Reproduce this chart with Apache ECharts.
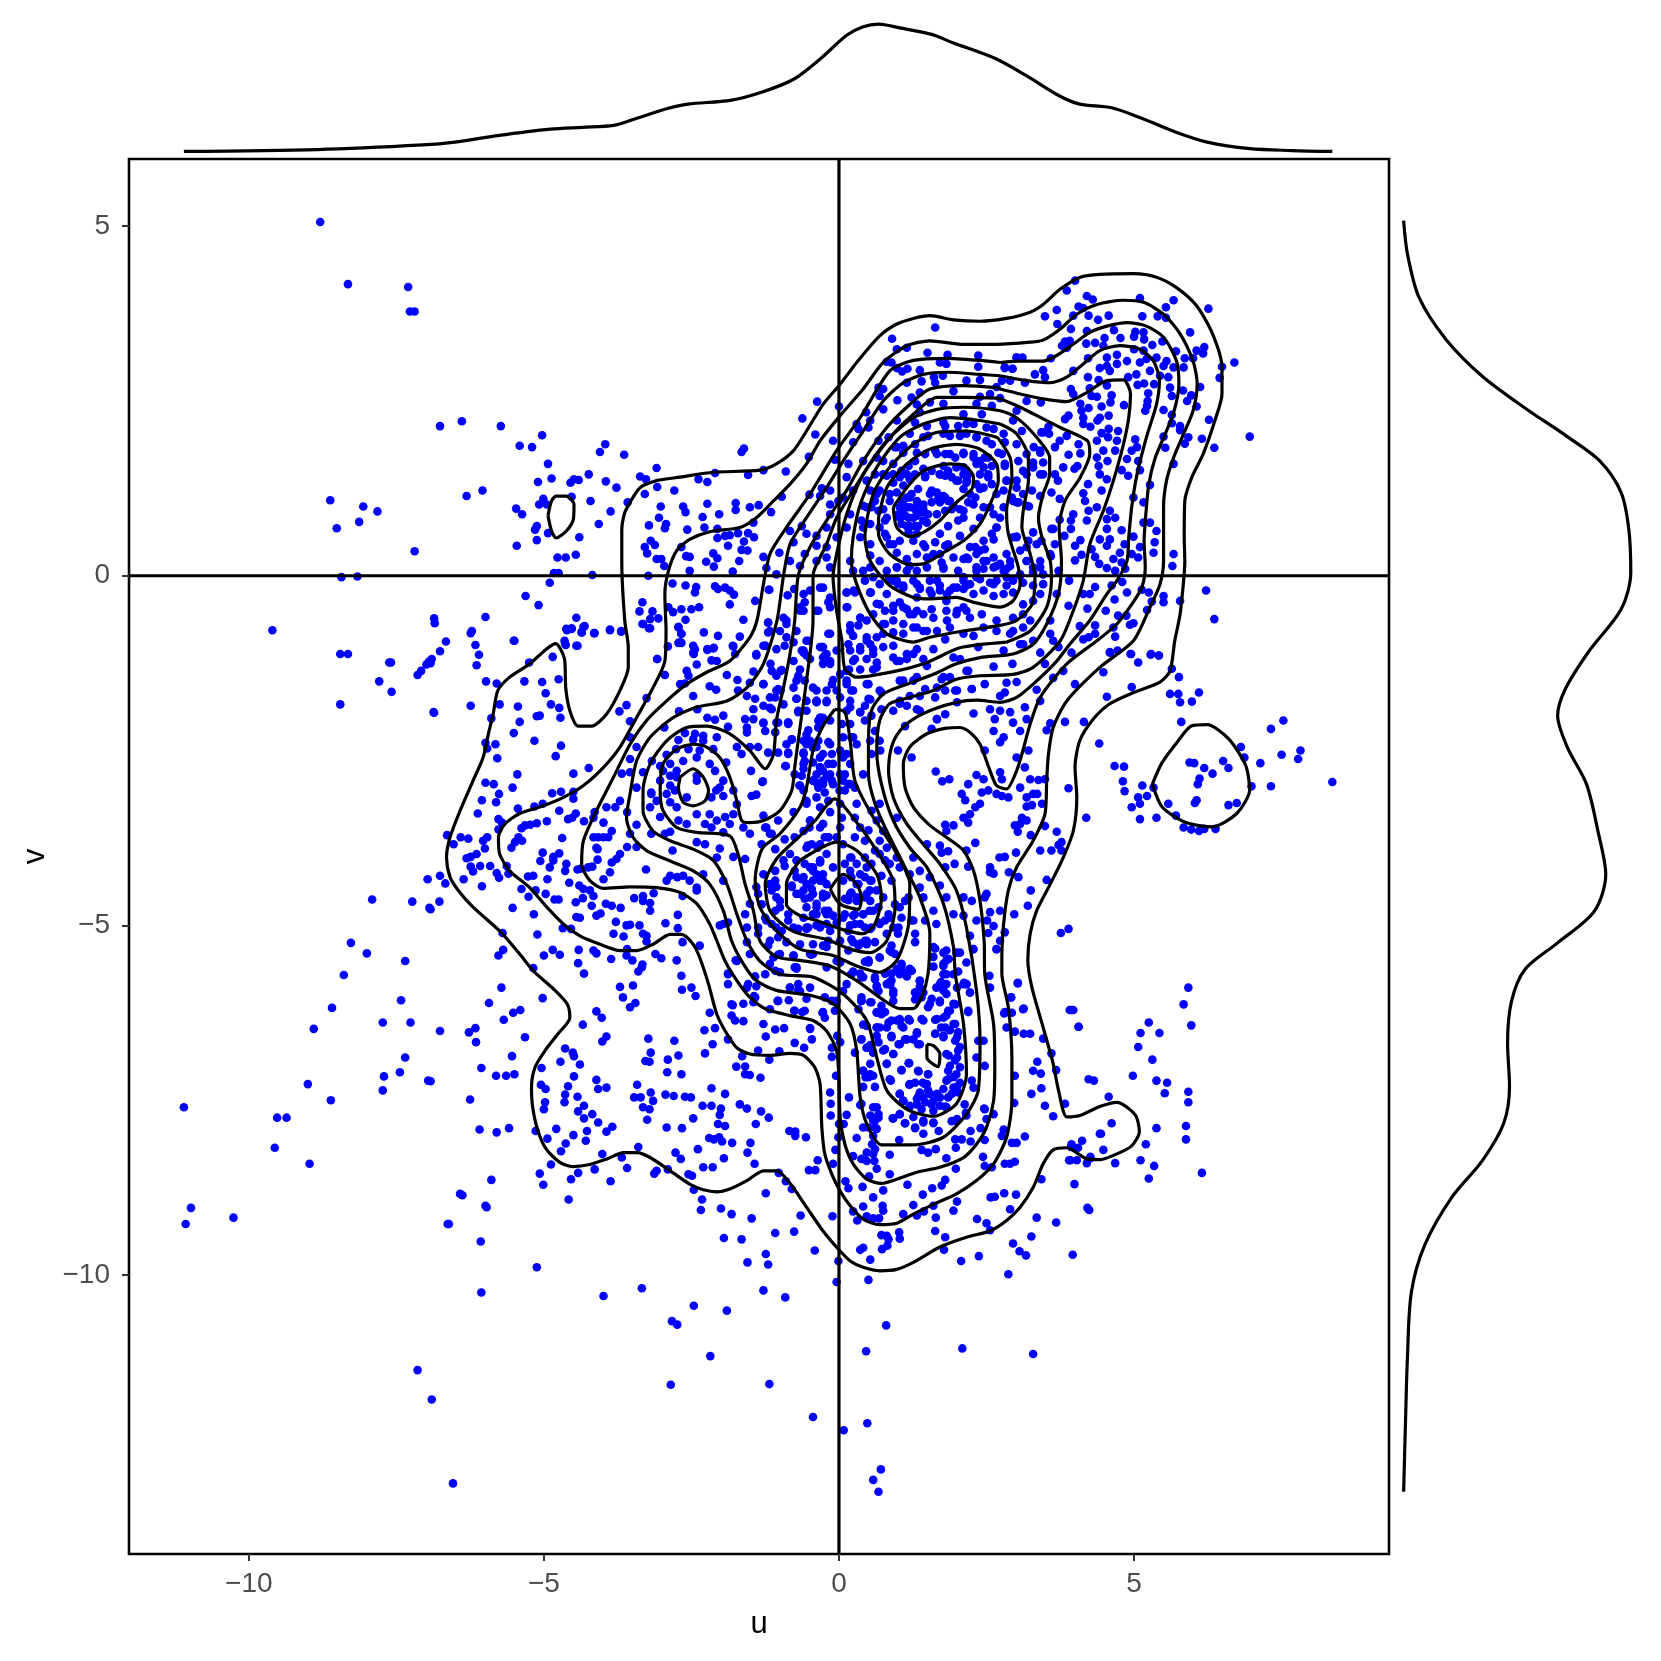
<!DOCTYPE html>
<html><head><meta charset="utf-8">
<script src="https://cdn.jsdelivr.net/npm/echarts@6/dist/echarts.min.js"></script>
<style>html,body{margin:0;padding:0;background:#fff}#c{width:1661px;height:1661px}</style></head>
<body><div id="c"></div>
<script>
const xTicks=[-10,-5,0,5], yTicks=[-10,-5,0,5];
const xMin=-12.03,xMax=9.32,yMin=-13.99,yMax=5.96;
const ptsUpperLeft=[[-8.79,5.06],[-8.32,4.17],[-7.30,4.13],[-7.27,3.78],[-7.19,3.78],[-6.76,2.14],[-6.39,2.21],[-5.73,2.14],[-5.03,2.01],[-5.41,1.86],[-5.20,1.84],[-3.96,1.88],[-4.05,1.77],[-3.64,1.73],[-4.93,1.60],[-4.24,1.45],[-4.87,1.39],[-5.10,1.34],[-4.55,1.33],[-4.49,1.38],[-4.41,1.37],[-3.95,1.35],[-3.77,1.26],[-6.31,1.14],[-6.04,1.22],[-4.53,1.13],[-5.01,1.10],[-5.08,1.02],[-4.95,1.02],[-4.21,1.07],[-3.58,1.05],[-5.47,0.96],[-5.37,0.88],[-3.87,0.92],[-5.12,0.71],[-5.15,0.66],[-4.07,0.74],[-4.93,0.61],[-4.40,0.55],[-5.12,0.51],[-5.46,0.43],[-8.62,1.08],[-8.06,0.99],[-7.82,0.92],[-8.13,0.77],[-8.51,0.68],[-7.19,0.35],[-4.77,0.26],[-4.63,0.26],[-4.46,0.30],[-4.83,0.04],[-4.75,0.04],[-4.18,0.01],[-8.43,-0.02],[-8.16,-0.01],[-4.90,-0.10],[-5.31,-0.29],[-5.09,-0.42],[-5.99,-0.59],[-6.86,-0.61],[-6.85,-0.68],[-4.45,-0.60],[-4.31,-0.72],[-4.61,-0.78],[-4.53,-0.76],[-4.36,-0.81],[-4.14,-0.82],[-3.88,-0.78],[-3.69,-0.80],[-9.60,-0.78],[-6.22,-0.79],[-6.24,-0.82],[-6.66,-0.94],[-6.16,-0.99],[-5.50,-0.93],[-4.65,-0.93],[-4.63,-0.99],[-4.43,-1.00],[-6.76,-1.08],[-8.32,-1.12],[-6.10,-1.13],[-4.85,-1.16],[-7.59,-1.24],[-6.95,-1.23],[-5.25,-1.24]];
const ptsMidLeft=[[-5.51,-0.93],[-6.14,-1.28],[-6.92,-1.25],[-5.98,-1.51],[-5.80,-1.54],[-5.33,-1.51],[-5.03,-1.52],[-4.75,-1.48],[-4.97,-1.68],[-6.24,-1.86],[-6.86,-1.96],[-5.75,-1.84],[-5.44,-1.87],[-4.88,-1.84],[-4.74,-1.89],[-5.89,-2.04],[-5.12,-2.01],[-5.07,-2.0],[-4.72,-2.03],[-5.41,-2.09],[-5.51,-2.25],[-5.16,-2.36],[-5.82,-2.41],[-5.99,-2.39],[-5.96,-2.47],[-4.71,-2.43],[-4.80,-2.58],[-5.79,-2.61],[-5.45,-2.84],[-4.50,-2.83],[-4.24,-2.75],[-5.99,-2.96],[-5.85,-2.98],[-5.53,-3.03],[-5.76,-3.12],[-4.86,-3.11],[-4.71,-3.09],[-4.50,-3.09],[-4.50,-3.19],[-6.05,-3.21],[-5.81,-3.24],[-5.02,-3.26],[-5.16,-3.30],[-5.44,-3.33],[-4.74,-3.36],[-6.12,-3.40],[-4.46,-3.40],[-4.52,-3.46],[-5.77,-3.48],[-5.71,-3.53],[-5.77,-3.63],[-5.32,-3.57],[-5.38,-3.61],[-5.23,-3.56],[-5.12,-3.54],[-4.95,-3.51],[-4.59,-3.48],[-4.32,-3.51],[-6.64,-3.71],[-6.41,-3.74],[-6.28,-3.76],[-5.96,-3.74],[-6.03,-3.79],[-5.43,-3.74],[-5.49,-3.81],[-5.37,-3.79],[-5.55,-3.89],[-4.69,-3.75],[-6.53,-3.84],[-6.0,-3.90],[-6.14,-3.98],[-6.24,-4.02],[-6.31,-4.04],[-5.02,-3.96],[-4.74,-3.97],[-4.84,-4.02],[-4.84,-4.07],[-5.06,-4.08],[-6.08,-4.15],[-6.24,-4.16],[-6.20,-4.23],[-5.91,-4.15],[-5.63,-4.15],[-5.80,-4.25],[-5.60,-4.26],[-5.76,-4.32],[-4.62,-4.12],[-4.90,-4.17],[-4.64,-4.22],[-6.76,-4.29],[-6.67,-4.40],[-6.36,-4.34],[-6.05,-4.44],[-5.27,-4.30],[-5.18,-4.29],[-4.94,-4.34],[-4.57,-4.39],[-5.38,-4.48],[-5.14,-4.50],[-4.97,-4.55],[-5.26,-4.59],[-4.82,-4.63],[-4.75,-4.63],[-6.77,-4.66],[-6.92,-4.77],[-5.53,-4.75],[-5.17,-4.84],[-4.45,-4.88],[-4.39,-4.89],[-4.46,-4.67],[-4.68,-5.04],[-5.11,-5.13],[-5.70,-5.11],[-4.54,-5.05]];
const ptsMidBand=[[-4.11,-3.89],[-4.08,-3.74],[-3.99,-3.74],[-4.16,-3.74],[-3.91,-3.74],[-3.85,-3.65],[-4.14,-3.38],[-3.99,-3.53],[-4.16,-3.46],[-3.94,-3.31],[-3.71,-3.22],[-3.79,-3.31],[-3.59,-3.38],[-3.54,-2.31],[-3.43,-2.45],[-3.54,-2.62],[-3.68,-2.83],[-3.54,-2.81],[-3.32,-2.81],[-3.43,-3.03],[-3.18,-3.12],[-3.54,-3.69],[-3.43,-3.56],[-3.18,-3.69],[-3.59,-3.88],[-3.43,-3.88],[-3.71,-3.98],[-3.77,-4.05],[-3.85,-4.10],[-4.09,-3.91],[-4.09,-4.06],[-4.25,-4.17],[-4.18,-4.16],[-4.43,-4.20],[-4.38,-4.19],[-3.88,-4.24],[-3.99,-4.34],[-3.27,-4.20],[-4.40,-4.43],[-4.33,-4.48],[-4.22,-4.50],[-4.16,-4.58],[-4.34,-4.61],[-4.19,-4.72],[-3.95,-4.69],[-3.85,-4.72],[-3.70,-4.75],[-3.47,-4.61],[-3.32,-4.58],[-3.14,-4.54],[-3.32,-4.65],[-3.20,-4.68],[-3.20,-4.79],[-4.11,-4.86],[-4.04,-4.83],[-3.78,-4.95],[-3.60,-5.0],[-3.54,-4.99],[-3.38,-5.0],[-3.82,-5.12],[-3.65,-5.16],[-3.32,-5.12],[-3.26,-5.15],[-3.26,-5.23],[-2.94,-4.97],[-2.73,-4.85],[-2.73,-5.04],[-2.65,-5.24],[-2.36,-5.29],[-2.92,-4.36],[-2.86,-4.29],[-2.74,-4.31],[-2.64,-4.29],[-2.53,-4.36],[-2.41,-4.46],[-2.41,-4.5],[-2.30,-4.27],[-2.65,-4.58]];
const ptsLowerLeft=[[-5.69,-5.35],[-5.77,-5.43],[-5.0,-5.43],[-4.85,-5.35],[-4.73,-5.42],[-4.41,-5.35],[-4.16,-5.36],[-4.11,-5.40],[-3.86,-5.48],[-3.59,-5.34],[-3.60,-5.43],[-3.50,-5.50],[-3.11,-5.41],[-3.01,-5.47],[-2.75,-5.50],[-4.42,-5.54],[-4.32,-5.69],[-5.18,-5.61],[-3.33,-5.56],[-3.34,-5.60],[-3.40,-5.66],[-2.67,-5.72],[-5.72,-5.89],[-3.71,-5.88],[-3.49,-5.86],[-2.66,-5.92],[-2.50,-5.89],[-2.43,-6.01],[-5.02,-6.04],[-5.93,-6.11],[-3.66,-6.03],[-3.45,-6.11],[-3.54,-6.17],[-5.40,-6.21],[-5.52,-6.25],[-4.11,-6.23],[-4.02,-6.32],[-2.19,-6.25],[-5.68,-6.35],[-4.34,-6.42],[-6.16,-6.47],[-6.27,-6.53],[-6.76,-6.51],[-6.15,-6.67],[-5.32,-6.60],[-3.94,-6.59],[-4.01,-6.66],[-3.23,-6.62],[-2.79,-6.65],[-2.28,-6.50],[-2.10,-6.47],[-2.14,-6.70],[-4.64,-6.76],[-4.51,-6.82],[-4.49,-6.87],[-3.19,-6.82],[-2.72,-6.86],[-2.27,-6.83],[-5.54,-6.87],[-4.72,-6.95],[-4.39,-6.99],[-3.28,-6.94],[-3.21,-6.95],[-2.90,-6.92],[-6.06,-7.04],[-5.04,-7.04],[-2.91,-7.10],[-2.67,-7.13],[-5.81,-7.15],[-5.64,-7.15],[-5.50,-7.13],[-4.49,-7.16],[-4.11,-7.21],[-6.92,-7.23],[-5.05,-7.28],[-4.97,-7.34],[-4.59,-7.30],[-4.08,-7.34],[-3.94,-7.32],[-3.42,-7.28],[-2.16,-7.33],[-1.93,-7.41],[-3.19,-7.39],[-4.64,-7.42],[-4.43,-7.45],[-6.25,-7.49],[-3.47,-7.46],[-3.36,-7.46],[-2.94,-7.42],[-2.80,-7.44],[-2.61,-7.45],[-2.51,-7.46],[-3.15,-7.51],[-4.98,-7.53],[-4.65,-7.53],[-5.0,-7.63],[-4.32,-7.58],[-3.32,-7.60],[-3.21,-7.63],[-2.31,-7.58],[-2.16,-7.58],[-2.0,-7.62],[-2.02,-7.71],[-1.68,-7.56],[-1.56,-7.62],[-4.42,-7.66],[-4.18,-7.70],[-4.32,-7.76],[-4.08,-7.82],[-3.25,-7.78],[-2.47,-7.76],[-1.32,-7.66],[-1.19,-7.75],[-1.41,-7.84],[-2.05,-7.84],[-1.93,-7.87],[-6.09,-7.92],[-5.59,-7.90],[-5.80,-7.96],[-5.14,-7.94],[-4.79,-7.91],[-4.27,-7.94],[-3.94,-7.95],[-3.84,-7.88],[-2.92,-7.89],[-2.66,-7.90],[-0.84,-7.94],[-0.74,-7.95],[-0.74,-8.01],[-0.56,-8.03],[-4.94,-8.05],[-4.50,-8.0],[-4.63,-8.12],[-4.29,-8.08],[-2.20,-8.04],[-2.12,-8.06],[-2.03,-8.03],[-1.98,-8.09],[-1.81,-8.11],[-1.50,-8.11],[-2.39,-8.20],[-4.71,-8.23],[-3.40,-8.17],[-4.01,-8.27],[-2.77,-8.25],[-1.55,-8.25],[-3.68,-8.32],[-2.68,-8.34],[-1.95,-8.33],[-4.88,-8.42],[-1.43,-8.41],[-2.30,-8.46],[-2.14,-8.46],[-0.36,-8.36],[-0.51,-8.50],[-0.40,-8.50],[-5.07,-8.55],[-4.42,-8.54],[-4.14,-8.49],[-3.59,-8.47],[-3.09,-8.51],[-3.13,-8.55],[-2.90,-8.49],[-2.55,-8.56],[-2.49,-8.58],[-1.02,-8.54],[-5.89,-8.64],[-5.01,-8.71],[-4.54,-8.63],[-3.87,-8.66],[-6.38,-8.86],[-0.90,-8.66],[-0.80,-8.77],[-2.46,-8.78],[-1.24,-8.83],[-4.58,-8.92],[-5.97,-9.03],[-2.32,-8.92],[-2.34,-9.07],[-2.0,-9.05],[-1.82,-9.13],[-1.48,-9.19],[-0.65,-9.15],[-6.61,-9.27],[-6.07,-9.52],[-1.08,-9.40],[-0.76,-9.38],[-1.95,-9.47],[-1.65,-9.49],[-0.41,-9.65],[-1.24,-9.70],[-1.55,-9.82],[-1.20,-9.85],[-5.12,-9.89],[-3.34,-10.19],[-6.06,-10.25],[-3.99,-10.30],[-1.28,-10.22],[-0.91,-10.32],[-2.46,-10.44],[-1.90,-10.51],[-2.83,-10.66],[-2.74,-10.71]];
const ptsFarLeft=[[-8.45,-1.12],[-7.79,-1.51],[-7.62,-1.24],[-7.58,-1.66],[-8.45,-1.84],[-7.08,-1.36],[-6.99,-1.27],[-6.9,-1.19],[-7.14,-1.42],[-6.87,-1.95],[-6.97,-4.34],[-7.23,-4.66],[-6.94,-4.75],[-7.91,-4.63],[-8.27,-5.25],[-8.0,-5.40],[-8.39,-5.71],[-8.59,-6.18],[-8.90,-6.48],[-7.35,-5.51],[-7.42,-6.07],[-7.26,-6.39],[-7.73,-6.39],[-7.35,-6.89],[-7.71,-7.16],[-7.44,-7.10],[-7.73,-7.36],[-6.96,-7.22],[-8.61,-7.50],[-9.0,-7.27],[-8.97,-8.41],[-9.56,-8.18],[-9.52,-7.75],[-9.36,-7.75],[-11.1,-7.60],[-11.07,-9.27],[-10.98,-9.04],[-10.26,-9.18],[-6.63,-9.27],[-6.42,-8.84],[-5.99,-9.01],[-7.14,-11.36],[-6.9,-11.78],[-6.54,-12.98],[-2.85,-11.57],[-2.18,-11.16],[-1.18,-11.56],[-0.44,-12.03],[0.08,-12.22],[0.48,-12.12],[0.71,-12.78],[0.58,-12.93],[0.67,-13.10],[0.46,-11.09],[2.09,-11.05],[3.29,-11.13]];
const ptsLowerRight=[[0.80,-10.72],[0.50,-10.07],[-0.04,-10.10],[-0.01,-9.80],[0.53,-9.78],[2.87,-9.99],[2.07,-9.80],[2.37,-9.73],[3.96,-9.71],[3.17,-9.72],[3.06,-9.66],[2.95,-9.55],[3.26,-9.45],[1.78,-9.64],[1.80,-9.46],[1.63,-9.37],[1.03,-9.48],[1.02,-9.39],[.84,-9.49],[.72,-9.43],[.81,-9.44],[.82,-9.58],[.73,-9.63],[.41,-9.61],[.36,-9.64],[3.68,-9.25],[3.35,-9.18],[4.24,-9.07],[2.34,-9.20],[2.50,-9.26],[2.56,-9.36],[2.90,-9.06],[1.64,-9.18],[1.32,-9.15],[1.09,-9.13],[-0.11,-9.16],[.31,-9.22],[.47,-9.16],[.58,-9.19],[.68,-9.19],[.24,-9.09],[.41,-9.02],[.74,-9.01],[.75,-9.08],[1.26,-9.0],[1.44,-9.09],[1.60,-9.01],[1.94,-9.08],[2.0,-8.95],[2.57,-8.89],[2.64,-8.88],[2.80,-8.83],[3.0,-8.85],[3.43,-8.63],[3.99,-8.70],[1.42,-8.85],[.58,-8.89],[.75,-8.79],[.16,-8.76],[.11,-8.66],[.40,-8.74],[1.16,-8.71],[1.58,-8.76],[1.74,-8.72],[1.80,-8.64],[.51,-8.59],[.86,-8.56],[.64,-8.48],[-.10,-8.41],[.47,-8.37],[.38,-8.34],[.60,-8.37],[1.82,-8.33],[1.98,-8.48],[2.44,-8.31],[2.47,-8.44],[2.59,-8.46],[2.81,-8.41],[2.90,-8.41],[2.98,-8.38],[3.92,-8.36],[4.03,-8.36],[4.20,-8.40],[4.26,-8.31],[.86,-8.28],[.47,-8.25],[.58,-8.27],[.24,-8.30],[1.40,-8.21],[1.51,-8.25],[1.64,-8.20],[1.98,-8.18],[-.06,-8.21],[4.12,-8.08],[3.93,-8.17],[4.42,-7.98],[1.02,-8.07],[.30,-8.04],[.56,-8.13],[.61,-8.20],[-.01,-8.03],[1.97,-8.06],[2.08,-8.06],[2.23,-8.09],[2.47,-8.07],[2.76,-8.01],[2.79,-7.92],[2.93,-8.11],[3.01,-8.11],[3.15,-8.02],[2.23,-7.94],[1.91,-7.80],[2.0,-7.77],[1.69,-7.94],[1.43,-7.98],[1.29,-7.90],[1.12,-7.83],[1.43,-7.79],[1.60,-7.83],[.91,-7.76],[1.26,-7.74],[1.03,-7.70],[2.40,-7.90],[2.50,-7.77],[2.62,-7.70],[2.46,-7.62],[2.15,-7.68],[3.63,-7.73],[3.49,-7.58],[3.83,-7.55],[2.97,-7.54],[3.43,-7.33],[3.26,-7.41],[4.23,-7.20],[3.42,-7.12],[3.29,-7.08],[3.68,-7.07],[3.36,-6.95],[2.98,-7.15],[3.60,-6.83],[3.46,-6.62],[3.24,-6.55],[3.13,-6.55],[2.98,-6.52],[4.06,-6.45],[3.97,-6.21],[3.91,-6.21],[3.13,-6.19],[2.93,-6.25],[2.80,-6.26],[2.84,-6.46],[2.92,-6.03],[3.03,-5.83],[2.55,-5.72],[2.67,-5.34],[2.27,-5.34]];
const ptsLowerLobe=[[.58,-7.60],[.67,-7.70],[.53,-7.72],[.61,-7.79],[.50,-7.89],[.64,-7.91],[.58,-8.01],[.41,-7.89],[.38,-7.55],[.17,-7.46],[.13,-7.71],[.08,-7.84],[0,-7.84],[.36,-7.57],[-.15,-7.39],[-.14,-7.55],[-.14,-7.72],[-.05,-7.15],[-.12,-6.88],[-.12,-6.75],[-.03,-6.58],[.02,-6.67],[.27,-6.82],[.38,-6.63],[.41,-6.42],[.53,-6.71],[.47,-6.75],[.58,-6.82],[.92,-6.84],[.75,-6.79],[.81,-6.98],[.53,-6.98],[.41,-7.08],[.58,-7.15],[.45,-7.17],[.41,-7.31],[.61,-7.31],[.88,-7.22],[1.06,-7.07],[1.18,-6.97],[1.35,-7.09],[1.19,-7.28],[1.29,-7.25],[1.42,-7.25],[1.51,-7.13],[1.49,-7.27],[1.03,-7.41],[1.09,-7.51],[1.20,-7.59],[1.35,-7.44],[1.43,-7.46],[1.32,-7.56],[1.54,-7.41],[1.57,-7.56],[1.71,-7.46],[1.60,-7.65],[1.80,-7.59],[1.91,-7.41],[2.0,-7.31],[1.82,-7.22],[1.94,-7.17],[2.05,-7.03],[1.88,-7.01],[2.0,-6.89],[1.86,-6.86],[2.05,-6.74],[2.0,-6.60],[1.88,-6.50],[1.77,-6.60],[1.94,-6.41],[1.82,-6.29],[1.73,-6.46],[1.66,-6.34],[1.63,-6.55],[1.37,-6.70],[1.26,-6.63],[1.15,-6.63],[1.03,-6.70],[.89,-6.58],[1.09,-6.46],[1.03,-6.34],[.89,-6.36],[.81,-6.46],[.69,-6.46],[.64,-6.58],[1.18,-6.34],[1.40,-6.34],[1.32,-6.53],[1.54,-6.12],[1.71,-6.08],[1.88,-6.22],[1.94,-6.12],[2.19,-6.22],[2.16,-5.84],[2.22,-5.96],[2.12,-5.82],[2.0,-5.89],[1.82,-5.84],[1.73,-5.81],[1.82,-5.70],[1.77,-5.55],[1.86,-5.48],[2.02,-5.66],[1.82,-5.36],[2.05,-5.39],[2.16,-5.53],[1.60,-5.45],[1.63,-5.33],[1.37,-5.88],[1.29,-6.06],[1.40,-6.03],[1.15,-5.73],[1.03,-5.69],[.87,-5.85],[.64,-5.86],[.36,-5.69],[.24,-5.66],[.44,-5.52],[.50,-5.50],[.78,-5.69],[.61,-5.74],[-.04,-6.08],[-.12,-6.08],[-.07,-6.22],[.38,-6.08],[.55,-6.10],[.33,-6.20],[.64,-6.25],[.72,-6.15],[.92,-6.08],[.13,-5.84],[.07,-5.94],[.02,-5.53],[.33,-5.29],[.47,-5.27],[.95,-5.41],[.89,-5.29]];
const ptsRightEdge=[[6.10,-3.65],[5.84,-3.60],[5.71,-3.43],[5.38,-3.46],[5.10,-3.48],[4.96,-3.31],[5.10,-3.26],[5.22,-3.15],[5.07,-3.17],[5.14,-3.0],[4.84,-3.08],[4.81,-2.94],[4.83,-2.73],[4.67,-2.72],[5.33,-3.03],[5.58,-3.26],[6.03,-3.25],[5.94,-2.67],[6.08,-2.98],[5.80,-2.09],[5.61,-1.69],[5.75,-1.69],[5.78,-1.81],[5.98,-1.80],[6.10,-1.67],[5.76,-1.45],[5.64,-1.33],[5.29,-1.12],[5.42,-1.14],[4.95,-1.12],[5.07,-1.24],[4.59,-1.09],[4.96,-1.59],[4.54,-1.73],[4.48,-1.38],[4.15,-2.09],[4.41,-2.40],[3.83,-2.09],[4.0,-1.55],[4.19,-3.46],[3.89,-3.04],[3.69,-3.66],[3.77,-3.81],[3.72,-3.85],[3.77,-3.93],[3.60,-3.93],[3.41,-3.93],[3.52,-4.35],[3.25,-4.50],[3.20,-4.72],[2.97,-4.84],[3.04,-4.31],[3.89,-5.05],[3.76,-5.11],[3.03,-5.82],[2.91,-6.03],[3.12,-6.20],[2.81,-6.24],[3.94,-6.21],[4.06,-6.45],[5.92,-5.89],[5.84,-6.13],[5.97,-6.43],[5.25,-6.39],[5.11,-6.54],[5.43,-6.54],[5.07,-6.74],[5.31,-6.92],[5.38,-7.22],[5.56,-7.25],[5.52,-7.40],[5.92,-7.38],[5.92,-7.53],[4.98,-7.15],[4.32,-7.22],[4.57,-7.45],[5.38,-7.90],[5.88,-7.87],[5.88,-8.06],[5.20,-8.13],[5.11,-8.36],[6.15,-8.54],[5.34,-8.44],[5.25,-8.62],[4.62,-7.83],[4.44,-7.98],[4.48,-8.21],[4.26,-8.33],[4.68,-8.40],[4.05,-8.18],[3.90,-8.36],[3.94,-8.13],[4.21,-9.04],[8.36,-2.95],[7.82,-2.50],[7.78,-2.62],[7.53,-2.07],[7.32,-2.19],[7.50,-2.56],[7.32,-3.01],[6.99,-3.01],[6.87,-2.60],[6.81,-2.45],[6.60,-2.75],[6.51,-2.65],[6.33,-2.83],[6.11,-2.90],[6.19,-2.75],[6.02,-2.68],[6.06,-3.21],[6.38,-3.62],[6.19,-3.62],[5.97,-3.63],[6.60,-3.28],[6.74,-3.25],[7.14,-2.68],[6.22,-.21],[6.36,-.62],[6.96,1.99],[6.36,1.83],[6.70,3.05],[6.49,2.99],[6.26,3.82],[5.67,3.94],[5.10,3.97],[6.45,2.83]];
const ptsUpperRight=[[4.0,4.22],[3.86,4.08],[4.20,4.0],[4.30,3.95],[3.69,3.80],[3.49,3.71],[4.06,3.85],[4.14,3.83],[4.23,3.72],[3.97,3.72],[4.57,3.72],[4.39,3.66],[5.14,3.71],[5.54,3.84],[5.40,3.71],[5.54,3.69],[3.70,3.60],[3.93,3.53],[4.20,3.50],[4.66,3.51],[5.95,3.48],[5.02,3.49],[5.16,3.48],[5.0,3.42],[5.17,3.38],[4.77,3.40],[4.50,3.40],[3.91,3.36],[3.83,3.35],[3.78,3.29],[3.86,3.26],[4.19,3.32],[4.34,3.33],[4.48,3.29],[5.31,3.30],[5.48,3.35],[6.19,3.27],[6.06,3.22],[5.71,3.21],[5.0,3.24],[5.16,3.22],[4.71,3.16],[4.54,3.12],[4.22,3.11],[3.59,3.11],[3.01,3.12],[3.11,3.12],[5.86,3.11],[6.0,3.11],[6.17,3.18],[5.38,3.12],[5.55,3.07],[5.84,2.98],[5.67,2.98],[5.50,3.0],[5.21,3.10],[5.10,3.05],[4.88,3.07],[4.71,3.03],[4.54,3.0],[4.42,2.97],[3.97,2.93],[3.46,2.94],[3.32,2.88],[3.49,2.84],[2.81,2.97],[2.94,2.96],[5.58,2.84],[5.44,2.86],[5.27,2.93],[5.04,2.88],[4.90,2.84],[4.59,2.93],[4.22,2.84],[4.40,2.80],[6.12,2.70],[5.61,2.69],[5.17,2.75],[5.06,2.73],[5.34,2.74],[4.54,2.72],[3.93,2.67],[4.25,2.68],[5.83,2.65],[5.64,2.57],[5.97,2.58],[5.90,2.50],[5.24,2.61],[3.97,2.60],[4.28,2.57],[4.37,2.56],[4.62,2.58],[5.23,2.50],[3.42,2.48],[4.09,2.46],[4.60,2.48],[4.83,2.44],[5.22,2.43],[6.06,2.42],[5.50,2.37],[4.23,2.40],[4.45,2.42],[4.11,2.36],[5.19,2.36],[5.64,2.30],[4.57,2.29],[3.89,2.29],[4.42,2.26],[4.14,2.26],[3.83,2.24],[6.27,2.23],[4.38,2.22],[5.64,2.18],[5.78,2.14],[5.78,2.08],[4.14,2.17],[4.26,2.13],[3.55,2.13],[4.57,2.10],[4.73,2.07],[4.45,2.04],[5.50,1.99],[5.02,1.95],[6.15,1.96],[5.92,1.98],[5.86,1.89],[3.86,2.0],[3.56,2.03],[3.43,2.05],[3.74,1.93],[4.06,1.88],[4.37,1.93],[4.56,1.98],[4.71,1.93],[5.53,1.83],[5.05,1.84],[4.96,1.79],[4.68,1.79],[4.09,1.75],[3.66,1.84],[3.41,1.76],[3.30,1.84],[3.89,1.73],[4.48,1.79],[4.37,1.69],[4.88,1.67],[5.07,1.64],[4.55,1.64],[3.46,1.62],[3.29,1.62],[5.67,1.60],[3.80,1.55],[4.04,1.57],[4.40,1.57],[4.79,1.51],[5.10,1.51],[3.99,1.53],[3.66,1.45],[3.41,1.45],[4.90,1.43],[4.42,1.45],[4.54,1.38],[3.71,1.36],[4.22,1.31],[5.27,1.30],[4.45,1.22],[3.60,1.19],[3.74,1.10],[3.41,1.14],[4.14,1.18],[4.99,1.12],[4.17,1.07],[4.37,.98],[5.16,1.05],[3.22,.99],[3.04,1.05],[4.23,.93],[3.97,.88],[4.59,.93],[4.68,.83],[4.20,.79],[3.74,.80],[4.54,.81],[3.93,.79],[5.16,.76],[5.27,.76],[3.60,.67],[3.93,.67],[4.79,.65],[4.54,.67],[5.38,.64],[4.99,.56],[3.29,.62],[4.09,.51],[4.42,.52],[4.59,.52],[3.82,.57],[3.01,.56],[3.21,.50],[4.0,.43],[4.54,.43],[5.35,.48],[4.84,.45],[5.10,.41],[3.66,.45],[3.35,.45],[4.28,.38],[5.33,.33],[5.67,.31],[4.76,.33],[3.59,.28],[4.11,.30],[4.34,.27],[4.96,.31],[5.07,.26],[4.65,.24],[4.0,.22],[4.41,.17],[5.65,.14],[4.79,.19],[4.54,.11],[4.85,.10],[3.72,.07],[4.68,.07],[3.90,-.07],[4.80,-.09],[4.34,-.16],[4.62,-.14],[4.14,-.26],[4.25,-.26],[4.88,-.24],[5.13,-.2],[5.25,-.24],[5.50,-.29],[5.78,-.36],[4.67,-.34],[5.30,-.37],[5.50,-.38],[3.89,-.43],[4.21,-.47],[4.52,-.5],[5.22,-.49],[4.87,-.57],[4.73,-.57],[4.99,-.68],[4.93,-.70],[4.08,-.72],[4.34,-.71],[4.65,-.74],[4.68,-.87],[4.23,-.88],[4.34,-.83],[4.14,-.91],[3.63,-.93],[3.72,-1.02],[4.59,-1.10],[4.72,-1.07],[4.94,-1.12],[5.28,-1.13],[5.42,-1.14],[3.94,-1.10],[3.29,-.14],[3.46,-.12],[3.41,-.26],[3.29,-.36],[3.12,-.55],[3.24,-.64],[3.58,-.64],[3.69,-.26],[2.95,-.79],[3.29,-.93],[3.07,-.98],[3.58,-.83],[3.07,.36],[2.90,.21],[2.84,.10],[3.29,.12],[3.41,.21],[3.18,.21],[3.29,.05],[2.95,-.07],[3.07,.0],[3.46,.02]];
const ptsUpperCentre=[[1.63,3.55],[.90,3.39],[.98,3.24],[1.15,3.26],[1.50,3.19],[1.84,3.16],[2.36,3.15],[3.01,3.12],[.81,3.06],[.89,3.05],[1.71,3.05],[1.82,3.03],[2.36,2.99],[.98,2.97],[1.16,2.96],[1.07,2.92],[1.37,2.94],[1.76,2.86],[1.61,2.84],[2.81,2.98],[2.94,2.96],[2.39,2.80],[2.16,2.79],[2.76,2.79],[2.90,2.79],[3.15,2.76],[1.15,2.76],[1.40,2.78],[1.63,2.76],[.67,2.69],[.75,2.67],[2.67,2.70],[1.94,2.64],[2.56,2.60],[2.39,2.56],[2.73,2.54],[1.37,2.62],[1.23,2.55],[.69,2.57],[.99,2.51],[-.37,2.49],[0,2.42],[-.62,2.25],[.46,2.34],[.75,2.38],[1.32,2.45],[1.54,2.48],[1.77,2.46],[2.33,2.46],[2.59,2.43],[3.01,2.36],[3.18,2.50],[1.37,2.34],[2.11,2.31],[2.42,2.31],[.98,2.22],[1.29,2.19],[.30,2.17],[.50,2.12],[.53,2.22],[2.95,2.22],[.33,2.10],[1.80,2.14],[2.02,2.14],[2.28,2.17],[2.62,2.10],[3.10,2.07],[-.40,2.02],[-.10,1.93],[.24,1.91],[.67,1.93],[.84,1.98],[1.43,1.98],[1.88,2.0],[2.33,1.98],[2.81,1.91],[2.16,2.03],[-1.61,1.82],[-1.65,1.77],[-.51,1.70],[-.07,1.66],[.16,1.60],[-1.28,1.51],[-.90,1.49],[.41,1.64],[.64,1.69],[1.09,1.86],[1.32,1.76],[2.11,1.76],[2.28,1.74],[1.66,1.74],[1.88,1.74],[2.53,1.69],[2.81,1.60]];
const ptsUpperBand=[[-3.09,1.54],[-3.37,1.42],[-3.27,1.38],[-2.10,1.47],[-1.54,1.44],[-2.38,1.38],[-2.23,1.34],[-3.08,1.27],[-2.79,1.22],[-3.29,1.17],[-.29,1.25],[-.15,1.22],[-.32,1.14],[-.50,1.16],[.13,1.41],[.24,1.22],[.47,1.36],[.07,1.12],[-.97,1.13],[-2.23,1.03],[-1.75,1.04],[-3.02,.99],[-1.51,.98],[-1.36,1.01],[-2.64,.99],[-1.75,.94],[-2.60,.91],[-2.03,.88],[-2.31,.84],[-3.05,.83],[-1.15,.91],[-.15,1.02],[-.01,1.07],[.41,1.0],[.19,.88],[-.15,.88],[-2.93,.74],[-2.95,.68],[-3.22,.72],[-1.45,.76],[-2.28,.69],[-2.57,.66],[-2.06,.67],[-.63,.71],[-.83,.64],[.13,.69],[.38,.79],[.36,.55],[-1.54,.61],[-1.71,.61],[-1.85,.58],[-1.93,.57],[-2.06,.54],[-1.44,.55],[-.55,.60],[-.38,.57],[-.21,.69],[-.04,.55],[-3.19,.50],[-3.12,.44],[-1.61,.49],[-1.88,.43],[-2.67,.41],[-3.29,.41],[-3.25,.32],[-.77,.48],[-.38,.43],[-.21,.41],[-1.65,.37],[-1.55,.36],[-2.13,.32],[-2.59,.28],[-2.53,.27],[-1.01,.33],[-.58,.31],[-1.28,.27],[-2.06,.25],[-3.09,.24],[-3.01,.24],[-1.69,.21],[-2.25,.20],[-2.96,.14],[-2.12,.13],[-1.23,.11],[-.83,.21],[-.66,.14],[-2.53,.07],[-1.80,.06],[-.38,.21],[-.21,.26],[-.15,.12],[-1.06,.02],[-3.23,0.0],[-2.82,-.11],[-2.60,-.14],[-2.42,-.16],[-2.44,-.24],[-2.10,-.15],[-2.05,-.19],[-1.93,-.17],[-1.85,-.21],[-1.78,-.27],[-1.19,-.20],[-.76,-.19],[-.60,-.26],[-.49,-.21],[-.32,-.17],[.13,-.24],[.25,-.21],[.53,-.24],[-.15,-.31],[-1.42,-.36],[-1.85,-.41],[-3.33,-.38],[-3.38,-.51],[-2.89,-.45],[-2.67,-.48],[-2.50,-.48],[-2.37,-.45],[-3.16,-.51],[-2.81,-.52],[-3.20,-.62],[-3.06,-.61],[-2.60,-.63],[-1.62,-.63],[-3.33,-.69],[-1.20,-.67],[-.89,-.64],[-3.22,-.75],[-2.72,-.73],[-.66,-.50],[-.38,-.50],[-.15,-.45],[.13,-.45],[.36,-.60],[.69,-.41],[.92,-.50],[-2.67,-.83],[-2.29,-.81],[-2.05,-.86],[-1.68,-.87],[-1.20,-.81],[-2.69,-.95],[-2.90,-1.01],[-2.44,-1.05],[-2.23,-1.05],[-2.13,-1.04],[-1.79,-1.01],[-1.25,-1.0],[-.92,-1.0],[-2.46,-1.12],[-1.40,-1.14],[-3.08,-1.19],[-.60,-1.07],[-.29,-1.02],[-.55,-.93],[-.89,-.88],[-.15,-.83],[.19,-.79],[.47,-.93],[.75,-.69]];
const ptsSaddleLeft=[[-4.62,-.76],[-4.53,-.75],[-4.33,-.73],[-4.36,-.81],[-4.15,-.82],[-3.88,-.77],[-3.69,-.79],[-4.64,-.97],[-4.45,-1.0],[-3.32,-.69],[-3.20,-.75],[-2.72,-.74],[-2.67,-.83],[-2.72,-.96],[-2.67,-.96],[-2.47,-1.0],[-2.47,-1.10],[-2.23,-1.06],[-2.12,-1.03],[-1.80,-1.0],[-3.08,-1.19],[-2.41,-1.27],[-2.16,-1.21],[-2.07,-1.22],[-1.76,-1.12],[-2.95,-1.42],[-2.58,-1.36],[-2.55,-1.43],[-1.90,-1.42],[-1.45,-1.37],[-1.40,-1.12],[-1.28,-1.0],[-1.16,-1.26],[-.99,-1.36],[-2.69,-1.55],[-2.61,-1.54],[-1.72,-1.49],[-1.51,-1.53],[-2.19,-1.58],[-2.08,-1.63],[-1.71,-1.64],[-1.28,-1.55],[-.99,-1.64],[-3.26,-1.75],[-2.47,-1.72],[-1.56,-1.72],[-1.42,-1.76],[-1.17,-1.74],[-.72,-1.76],[-.44,-1.60],[-3.60,-1.85],[-3.72,-1.94],[-2.71,-1.94],[-2.40,-1.91],[-1.45,-1.91],[-1.17,-1.89],[-.69,-1.93],[-.38,-1.81],[-3.54,-2.08],[-2.23,-2.03],[-2.10,-2.06],[-1.96,-2.0],[-1.59,-2.05],[-1.45,-2.05],[-1.28,-2.11],[-1.03,-2.10],[-.86,-2.10],[-.35,-2.07],[-2.96,-2.17],[-1.88,-2.16],[-1.56,-2.17],[-1.56,-2.24]];
const ptsLeftPeak=[[-2.61,-2.25],[-2.44,-2.26],[-2.30,-2.29],[-2.72,-2.35],[-2.47,-2.34],[-2.07,-2.31],[-2.30,-2.36],[-2.76,-2.48],[-2.92,-2.56],[-2.55,-2.48],[-2.36,-2.50],[-2.13,-2.48],[-1.73,-2.45],[-1.65,-2.55],[-1.51,-2.45],[-1.37,-2.45],[-3.03,-2.72],[-3.17,-2.65],[-2.86,-2.69],[-2.64,-2.65],[-2.41,-2.60],[-2.19,-2.69],[-1.91,-2.67],[-1.49,-2.79],[-2.86,-2.86],[-2.98,-2.79],[-2.75,-2.79],[-2.41,-2.86],[-2.10,-2.79],[-3.03,-2.93],[-2.86,-3.0],[-2.75,-2.88],[-2.41,-2.93],[-1.96,-2.93],[-2.02,-3.03],[-1.79,-3.07],[-1.30,-2.95],[-3.18,-3.10],[-2.92,-3.12],[-2.78,-3.07],[-2.08,-3.07],[-2.16,-3.17],[-1.96,-3.15],[-1.73,-3.27],[-1.48,-3.15],[-1.40,-3.13],[-3.09,-3.22],[-2.86,-3.24],[-2.58,-3.17],[-2.75,-3.31],[-2.41,-3.41],[-2.19,-3.41],[-2.07,-3.50],[-1.93,-3.45],[-1.79,-3.41],[-3.20,-3.31],[-3.03,-3.45],[-2.72,-3.50],[-2.58,-3.55],[-2.27,-3.55],[-2.16,-3.60],[-1.96,-3.67],[-1.85,-3.55],[-1.62,-3.60],[-1.51,-3.69],[-1.28,-3.43],[-1.03,-3.50],[-.77,-3.38],[-2.95,-3.69],[-2.86,-3.66],[-2.41,-3.81],[-2.27,-3.84],[-2.02,-3.90],[-2.82,-3.93],[-2.07,-4.03],[-1.79,-4.02],[-1.59,-4.05],[-1.96,-4.36],[-1.23,-3.60],[-1.17,-3.69]];
const ptsCentreStrip=[[-1.06,-1.64],[-.94,-1.84],[-.86,-2.12],[-.55,-2.27],[-.35,-2.17],[-.27,-2.03],[-.55,-1.93],[-.72,-1.50],[-.77,-1.22],[-.49,-1.19],[-.27,-1.26],[-.32,-1.02],[-.21,-1.64],[-.80,-2.34],[-.55,-2.41],[-.27,-2.55],[-.38,-2.45],[-.58,-2.65],[-.32,-2.74],[-.18,-2.69],[-.86,-2.53],[-.90,-2.72],[-.66,-3.0],[-.44,-2.93],[-.21,-2.88],[-.35,-3.03],[-.55,-3.22],[-.18,-3.22],[-.49,-3.50],[-.27,-3.55],[-.55,-3.89],[-.32,-3.84],[-.18,-3.74],[-.60,-1.10],[-.15,-1.22],[-.21,-1.12],[-.58,-1.50],[-.10,-1.49],[.13,-1.50],[-.04,-1.64],[-.38,-1.79],[-.55,-1.79],[-.21,-1.81],[.21,-1.64],[.50,-1.55],[.72,-1.67],[.19,-1.88],[.36,-1.95],[.53,-1.77],[.44,-2.07],[-.32,-2.03],[-.15,-2.07],[-.52,-2.21],[-.60,-2.36],[-.18,-2.38],[.19,-2.12],[.21,-2.31],[.69,-2.36],[.55,-2.55],[1.0,-2.50],[1.23,-2.60],[.41,-2.84],[-.60,-2.55],[-.44,-2.46],[-.32,-2.60],[-.10,-2.69],[.07,-2.60],[-.32,-2.74],[-.15,-2.84],[-.60,-2.76],[-.44,-2.93],[-.27,-2.98],[-.10,-2.98],[.10,-2.84],[.19,-2.98],[.10,-3.07],[.27,-3.03],[-.38,-3.17],[-.55,-3.26],[-.60,-3.07],[-.24,-3.10],[.30,-3.26],[.55,-3.36],[.69,-3.26],[.98,-3.46],[.64,-3.50],[.75,-3.65],[.27,-3.46],[-.49,-3.50],[-.32,-3.60],[-.60,-3.65],[-.18,-3.74],[-.46,-3.84],[.36,-3.60],[.44,-3.79],[.81,-3.89],[.98,-4.03],[1.26,-4.03],[1.03,-4.17],[1.20,-4.27],[1.37,-4.22],[.69,-3.98],[.86,-4.12],[.02,-1.41],[.13,-1.36],[.02,-1.74],[.07,-2.31],[.05,-2.12],[.02,-2.50],[.02,-2.84],[.01,-3.07],[.02,-3.26],[.05,-3.46],[.02,-3.60],[-.04,-3.74],[.07,-3.84],[-.32,-3.31],[-.15,-3.38]];
const ptsRightBand=[[1.49,-3.84],[1.71,-3.86],[1.74,-3.96],[1.85,-3.94],[2.16,-3.93],[1.96,-4.12],[2.19,-4.16],[1.80,-4.17],[1.54,-4.31],[1.37,-4.46],[1.71,-4.43],[1.43,-4.60],[1.18,-4.60],[1.03,-4.74],[1.60,-4.79],[1.82,-4.60],[2.11,-4.60],[2.25,-4.65],[1.94,-4.84],[2.11,-4.86],[1.46,-4.93],[1.65,-4.98],[1.26,-4.93],[1.0,-5.12],[1.29,-5.24],[1.60,-5.31],[1.77,-5.39],[1.99,-5.39],[2.28,-5.34],[2.22,-5.15],[2.33,-4.93],[2.56,-4.17],[2.56,-4.24],[2.62,-4.26],[2.72,-4.03],[2.81,-4.02],[3.0,-3.96],[2.88,-4.24],[2.50,-4.55],[2.47,-4.60],[2.56,-4.81],[2.73,-4.79],[2.51,-4.93],[2.62,-5.01],[2.53,-5.11],[2.73,-5.22],[2.67,-5.34],[2.81,-5.10],[2.56,-5.89],[1.82,-5.50],[1.77,-5.70],[1.94,-5.70],[2.11,-5.84],[1.60,-5.59],[1.65,-5.89],[1.77,-5.93],[1.64,-2.80],[1.75,-2.94],[1.87,-2.91],[2.19,-2.98],[2.33,-2.85],[2.45,-2.91],[2.08,-3.12],[2.14,-3.21],[2.39,-3.26],[2.31,-3.31],[2.22,-3.41],[2.11,-3.46],[2.19,-3.53],[1.80,-3.56],[1.94,-3.57],[1.82,-3.65],[2.31,-3.82],[1.57,-2.19],[2.47,-2.50],[2.42,-3.10],[2.53,-3.07],[2.67,-3.12],[2.76,-3.15],[2.87,-3.17],[2.73,-2.81],[2.76,-2.91],[3.07,-3.03],[3.24,-2.91],[3.38,-2.92],[3.49,-2.91],[3.15,-2.74],[3.18,-3.17],[3.29,-3.12],[3.36,-3.12],[3.44,-3.26],[3.18,-3.30],[3.27,-3.28],[3.10,-3.46],[2.98,-3.57],[3.07,-3.55],[3.18,-3.50],[3.03,-3.66],[3.25,-3.71],[3.49,-3.58],[3.01,-2.60],[3.21,-2.50],[3.52,-2.21],[3.58,-2.11],[2.62,-1.30],[2.94,-1.26],[3.49,-1.26],[3.80,-1.36],[2.47,-1.55],[2.25,-1.62],[1.97,-1.64],[1.66,-1.60],[1.37,-1.72],[2.84,-1.53],[3.01,-1.52],[2.73,-1.72],[2.81,-1.67],[3.35,-1.63],[3.41,-1.79],[3.63,-1.46],[3.15,-1.88],[2.56,-1.91],[2.73,-1.93],[2.90,-1.95],[2.64,-2.05],[2.95,-2.10],[3.18,-2.05],[3.07,-2.22],[2.62,-2.22],[2.79,-2.31],[2.73,-2.38],[2.28,-1.97],[1.66,-2.05],[1.37,-1.93],[1.03,-1.83],[1.26,-1.50],[1.03,-1.50],[1.94,-1.17],[2.16,-1.36],[1.77,-1.45],[2.79,-1.07],[3.12,-.98],[3.41,-1.10],[.92,-1.17],[.58,-1.12],[.24,-1.22],[.64,-1.31],[1.03,-1.22],[1.26,-1.12],[1.49,-1.29]];
const ptsUpperCore=[[1.06,1.07],[1.15,1.12],[1.23,1.17],[1.09,.95],[1.20,.98],[1.32,1.02],[1.03,.83],[1.18,.83],[1.32,.86],[1.43,.95],[1.15,.71],[1.29,.71],[1.43,.79],[1.57,1.22],[1.68,1.10],[1.80,1.12],[1.88,1.07],[1.91,.95],[1.46,1.41],[1.71,1.45],[2.11,1.45],[2.17,1.36],[2.02,1.36],[2.39,1.64],[2.45,1.55],[2.53,1.45],[2.59,1.31],[2.39,1.45],[2.33,1.31],[2.45,1.26],[2.33,1.60],[2.22,1.17],[2.28,1.02],[2.05,.95],[2.11,.83],[2.45,.98],[2.62,.88],[2.73,.83],[2.67,.69],[2.95,1.07],[3.04,1.05],[2.79,1.22],[2.84,1.36],[3.01,1.26],[3.12,1.17],[3.18,1.45],[3.04,1.64],[2.70,1.76],[2.50,1.93],[.86,1.07],[.81,.83],[.92,1.45],[1.15,1.45],[.98,1.84],[.75,1.45],[.64,1.17],[.55,.98],[.41,.69],[.69,.69],[.81,.55],[.92,.45],[1.03,.50],[1.26,.50],[1.43,.45],[1.60,.31],[1.80,.43],[2.22,.41],[2.33,.31],[2.47,.38],[2.11,.24],[2.19,.24],[2.45,.21],[2.62,.26],[2.73,.17],[2.84,.31],[3.01,.55],[3.18,.41],[2.59,.60],[2.45,.50],[.98,.12],[1.15,.07],[1.32,.07],[1.74,.19],[1.77,.10],[2.02,.07],[2.33,.07],[2.45,.10],[2.62,.12],[2.79,.07],[2.90,.14],[2.11,-.07],[2.22,-.12],[2.39,-.05],[2.56,-.10],[2.67,-.07],[2.84,-.14],[2.28,-.26],[2.45,-.21],[2.62,-.29],[2.79,-.26],[2.95,-.24],[3.12,-.10],[3.12,-.41],[1.88,-.21],[1.71,-.14],[1.54,-.07],[1.37,-.19],[1.26,-.07],[1.09,-.14],[.98,-.07],[.84,-.05],[.58,-.02],[.41,.07],[.24,.07],[.19,.21],[.53,.29],[1.57,-.26],[1.82,-.36],[2.11,-.45],[1.32,-.50],[1.09,-.45],[1.20,-.55],[1.57,-.48],[1.82,-.50],[1.99,-.55],[2.22,-.60],[2.42,-.55],[2.67,-.64],[2.95,-.60],[2.28,-.86],[2.45,-.74],[2.67,-.79],[2.90,-.83],[3.12,-.74],[.92,-.64],[.75,-.83],[1.26,-.74],[1.43,-.79],[1.66,-.79],[1.88,-.74],[2.11,-.83],[1.09,-.83],[.53,-.98],[.36,-1.07],[.19,-1.07],[-.04,-1.07],[-.27,-1.17],[2.36,-1.02]];
const ptsLowerCore=[[-.32,-4.08],[-.21,-3.98],[-.44,-4.17],[-.10,-4.17],[-.27,-4.36],[-.44,-4.36],[-.60,-4.31],[-.60,-4.50],[-.44,-4.55],[-.27,-4.60],[-.38,-4.74],[-.18,-4.79],[-.55,-4.74],[.19,-4.03],[.30,-4.12],[.47,-4.17],[.19,-4.22],[.36,-4.27],[.53,-4.36],[.30,-4.41],[.07,-4.36],[.19,-4.55],[.16,-4.64],[.30,-4.60],[.47,-4.55],[.53,-4.65],[.58,-4.79],[.41,-4.84],[.24,-4.86],[.07,-4.89],[.36,-4.98],[.19,-5.0],[-.04,-4.96],[-.21,-4.98],[-.38,-5.0],[-.55,-5.03],[.53,-5.05],[.69,-4.98],[.84,-4.84],[.92,-5.03],[.47,-5.22],[.36,-5.26],[.61,-5.24],[.81,-5.12],[.86,-5.36],[.69,-5.46],[.50,-5.53],[.24,-5.24],[.02,-5.22],[-.18,-5.22],[-.44,-5.27],[-.46,-5.41],[-.04,-5.51],[.21,-5.70],[.41,-5.74],[.64,-5.89],[.86,-5.81],[1.03,-5.70],[1.23,-5.65],[1.37,-5.79],[1.29,-5.96],[.92,-5.98],[.38,-6.08],[.72,-6.27],[1.03,-6.36],[1.20,-6.36],[.64,-6.46],[-.49,-6.48],[-.27,-6.24],[-.24,-6.03],[-.94,-4.07],[-.83,-3.98],[-.72,-4.07],[-.49,-4.17],[-.32,-4.07],[-.72,-4.31],[-.55,-4.41],[-.38,-4.27],[-.21,-4.41],[-.80,-4.45],[-.66,-4.55],[-.49,-4.60],[-.27,-4.55],[-1.06,-4.45],[-1.06,-4.60],[-1.17,-4.41],[-1.28,-4.27],[-1.40,-4.45],[-1.51,-4.69],[-1.0,-4.74],[-.86,-4.84],[-.60,-4.89],[-.38,-4.84],[-.21,-4.84],[-1.59,-4.84],[-1.23,-4.93],[-1.06,-5.03],[-.77,-5.03],[-.55,-5.05],[-1.56,-5.03],[-1.37,-5.12],[-1.17,-5.22],[-.89,-5.24],[-.66,-5.27],[-.27,-5.29],[-1.56,-5.24],[-1.51,-5.41],[-1.17,-5.55],[-1.0,-5.41],[-.75,-5.60],[-.44,-5.41],[-.21,-5.60],[-1.96,-4.98],[-2.02,-5.0],[-1.88,-4.96],[-1.73,-5.51],[-1.88,-5.70],[-1.56,-5.89],[-.83,-5.89],[-.66,-5.94],[-.49,-5.89],[-1.03,-6.08],[-1.17,-6.20],[-1.42,-6.03],[-1.82,-6.13],[-.75,-6.22],[-.58,-6.22],[-.24,-6.32],[-1.28,-6.41],[-1.08,-6.49],[-.93,-6.47],[-.49,-6.47],[-.76,-6.22],[-.62,-6.24],[-.28,-6.25],[-1.24,-6.59],[-.75,-6.68],[-.59,-6.75],[-.46,-6.63],[-1.37,-6.79],[-1.18,-6.92],[-1.01,-6.80],[-1.74,-7.02],[-1.59,-7.02],[-1.59,-7.13],[-1.51,-7.14],[-1.33,-7.18],[-1.64,-6.87],[-1.88,-6.63],[-1.82,-6.29],[-1.76,-6.36],[-1.62,-6.37],[-1.80,-6.14],[-1.62,-6.12],[-1.44,-6.01],[-1.45,-6.10],[-1.04,-6.08],[-.85,-6.07],[-.55,-6.05],[-.69,-5.93],[-1.88,-5.69],[-1.75,-5.50],[-1.88,-5.84],[-1.54,-5.84],[-1.40,-5.87],[-1.42,-5.73],[-1.03,-5.42],[-.77,-5.43],[-.47,-5.42],[-1.0,-5.67],[-.72,-5.62]];
const ptsUpperCoreDense=[[1.09,1.07],[1.20,1.12],[1.32,1.07],[1.03,.98],[1.15,.98],[1.29,.95],[1.43,1.02],[1.01,.88],[1.12,.86],[1.26,.83],[1.40,.91],[1.51,.88],[1.06,.74],[1.20,.71],[1.34,.71],[1.49,.76],[1.18,.62],[1.32,.60],[1.54,1.17],[1.66,1.19],[1.77,1.14],[1.57,1.05],[1.71,1.05],[1.85,1.07],[1.80,.93],[1.94,1.0],[1.66,.88],[1.34,1.24],[1.46,1.43],[1.85,1.50],[1.99,1.55],[2.11,1.55],[2.19,1.45],[2.16,1.33],[2.11,1.24],[1.99,1.36],[1.91,1.41],[1.80,1.43],[1.71,1.45],[1.77,1.57],[1.57,1.50],[1.43,1.53],[1.29,1.45],[1.20,1.38],[1.09,1.29],[.98,1.19],[1.03,1.41],[1.18,1.57],[1.29,1.64],[1.46,1.74],[1.63,1.79],[1.80,1.74],[1.97,1.69],[2.11,1.74],[2.28,1.69],[2.47,1.69],[2.59,1.57],[2.53,1.41],[2.39,1.24],[2.31,1.12],[2.19,1.05],[2.11,.93],[2.02,.79],[1.85,.71],[1.71,.60],[1.63,.48],[1.46,.41],[1.32,.31],[1.15,.24],[.98,.33],[.86,.45],[.78,.60],[.78,.79],[.75,.95],[.86,1.17],[.92,1.33],[1.06,1.50],[.67,.93],[.61,1.07],[.69,1.22],[.81,1.43],[.92,1.60],[1.09,1.76],[1.29,1.88],[1.51,2.0],[1.77,2.03],[2.05,2.0],[2.33,1.98],[2.59,1.88],[2.76,1.74],[2.81,1.57],[2.84,1.36],[2.67,1.17],[2.56,.98],[2.39,.83],[2.28,.67],[2.05,.57],[1.85,.45],[1.71,.31],[1.49,.26],[1.20,.14],[.98,.12],[.81,.07],[.69,.21],[.53,.45],[.53,.74],[.47,.98],[.53,1.22],[.61,1.45],[.75,1.64],[.95,1.84],[1.20,2.03],[1.49,2.14],[1.77,2.19],[2.16,2.17],[2.50,2.12],[2.79,2.03],[3.01,1.88],[3.18,1.74],[3.29,1.55],[3.12,1.50],[3.01,1.36],[2.93,1.12],[2.79,.98],[2.67,.69],[2.95,.55],[2.62,.52],[2.31,.41],[2.16,.26],[2.39,.36],[2.50,.21],[2.33,.12],[2.67,.14],[1.94,.26],[1.77,.12],[1.49,.12],[2.11,-.02],[2.33,-.02],[2.62,-.12],[1.94,-.17],[1.66,-.07],[1.32,-.12],[1.09,-.17],[.92,-.07],[.69,-.12],[.53,.12],[.44,-.07],[.53,-.24],[.81,-.26],[1.03,-.38],[1.32,-.31],[1.54,-.21],[1.83,-.26],[2.16,-.14],[2.84,-.02],[3.07,.02],[3.18,.21],[3.41,.12],[3.43,.50],[3.63,.67],[3.58,.31],[3.18,1.0],[3.01,1.05],[3.27,1.22],[3.46,1.45],[3.41,1.79],[3.46,2.05]];
const ptsLowerCoreDense=[[-1.25,-3.60],[-1.14,-3.69],[-1.31,-3.84],[-1.08,-3.91],[-.92,-3.77],[-.75,-3.74],[-.53,-3.86],[-.36,-3.89],[-.92,-4.15],[-1.08,-4.22],[-1.08,-4.36],[-1.14,-4.50],[-1.0,-4.65],[-1.08,-4.79],[-1.31,-4.70],[-1.37,-4.55],[-1.25,-4.89],[-1.14,-4.98],[-.86,-4.93],[-.97,-5.08],[-.69,-5.05],[-.52,-5.03],[-.32,-5.03],[-.15,-5.08],[.21,-5.20],[.44,-5.22],[.55,-5.03],[.67,-4.96],[.78,-4.93],[.86,-4.89],[-.75,-4.22],[-.63,-4.34],[-.80,-4.43],[-.72,-4.55],[-.58,-4.62],[-.46,-4.48],[-.32,-4.36],[-.44,-4.22],[-.58,-4.12],[-.32,-4.10],[-.27,-4.27],[-.21,-4.57],[-.38,-4.69],[-.24,-4.79],[-.44,-4.84],[-.10,-4.86],[.10,-4.84],[.27,-4.84],[.41,-4.84],[.52,-4.79],[.21,-4.31],[.33,-4.41],[.21,-4.53],[.10,-4.62],[.30,-4.65],[.44,-4.60],[.52,-4.50],[.44,-4.31],[.55,-4.36],[.64,-4.50],[.75,-4.60],[.67,-4.74],[.27,-4.98],[.44,-5.03],[.16,-5.08],[.10,-4.12],[.21,-4.03],[.44,-4.03],[.55,-4.12],[.72,-4.29],[.89,-4.36],[.95,-4.70],[1.06,-4.89],[1.01,-5.03],[1.29,-5.12],[1.23,-4.93],[1.12,-4.65],[.78,-4.07],[.61,-3.93],[.27,-3.74],[.50,-3.64],[.69,-3.79],[-.50,-3.60],[-.24,-3.74],[-.27,-3.55],[-1.37,-5.03],[-1.20,-5.29],[-1.11,-5.46],[-1.03,-5.17],[-.77,-5.43],[-.49,-5.41],[-.21,-5.31],[.16,-5.36],[.50,-5.51],[.69,-5.46],[.89,-5.38],[1.06,-5.55],[1.20,-5.62],[.89,-5.69],[-.72,-5.60],[-1.08,-5.65],[-1.25,-5.70],[.21,-5.70],[.38,-5.74],[-.69,-5.84],[-.83,-5.89]];
const ptsLobeDense=[[1.77,-5.58],[1.71,-5.84],[1.82,-5.98],[1.57,-6.05],[1.51,-6.17],[1.71,-6.10],[1.85,-6.22],[1.97,-6.13],[1.77,-6.32],[1.97,-6.41],[1.80,-6.46],[2.02,-6.53],[1.77,-6.58],[1.97,-6.65],[2.02,-6.79],[1.82,-6.84],[1.97,-6.93],[1.85,-7.08],[1.99,-7.13],[1.85,-7.20],[2.05,-7.25],[1.77,-7.34],[1.94,-7.32],[2.02,-7.39],[1.85,-7.46],[1.66,-7.41],[1.51,-7.36],[1.37,-7.39],[1.32,-7.48],[1.46,-7.53],[1.60,-7.51],[1.71,-7.58],[1.82,-7.60],[1.40,-7.63],[1.20,-7.58],[1.03,-7.41],[1.09,-7.51],[1.51,-7.13],[1.46,-7.27],[1.20,-7.27],[1.34,-7.08],[1.06,-7.07],[1.19,-6.97],[.81,-6.98],[.86,-7.20],[.92,-6.84],[.78,-6.77],[.67,-6.67],[.89,-6.60],[1.01,-6.70],[1.12,-6.63],[1.32,-6.55],[1.34,-6.70],[1.63,-6.55],[1.63,-6.35],[1.43,-6.36],[1.18,-6.35],[1.06,-6.44],[.98,-6.36],[.84,-6.39],[.78,-6.24],[.64,-6.24],[.64,-6.46],[.47,-6.44],[1.23,-5.65],[1.09,-5.67],[.98,-5.62],[1.06,-5.58],[.81,-5.84],[.89,-5.79],[.92,-5.94],[.61,-5.77],[.67,-5.94],[.38,-6.03],[.53,-6.10],[1.37,-5.80],[1.29,-5.96],[1.43,-5.96],[2.16,-5.84],[2.22,-5.96],[2.19,-6.24],[2.36,-6.65],[2.45,-6.65],[2.33,-6.89],[2.47,-7.01],[2.25,-7.22],[2.28,-7.32],[2.47,-7.63],[2.13,-7.56],[2.16,-7.72],[1.97,-7.79],[1.60,-7.82],[1.43,-7.82],[1.12,-7.83],[.92,-7.76],[1.03,-7.70],[1.29,-7.89],[.64,-7.60],[.67,-7.75],[.58,-7.79],[.61,-7.89],[.50,-7.17],[.41,-7.08],[.38,-6.63],[.47,-6.75],[.53,-7.13]];
const ptsCentreDense=[[-1.18,-.20],[-.87,-.28],[-1.20,-.67],[-1.17,-.79],[-1.25,-1.0],[-1.06,-1.05],[-.94,-.60],[-.89,-.69],[-1.0,-.79],[-.77,-.95],[-.72,-.79],[-.66,-.45],[-.58,-.38],[-.60,-.50],[-.35,-.50],[-.18,-.38],[-.27,-.17],[-.52,-.93],[-.63,-1.07],[-.55,-1.14],[-.27,-1.02],[-.18,-.83],[-.24,-1.14],[-.15,-1.26],[-.66,-1.34],[-.69,-1.43],[-1.14,-1.36],[-.97,-1.35],[-1.06,-1.43],[-1.28,-1.55],[-1.03,-1.62],[-.77,-1.60],[-1.08,-1.74],[-.72,-1.76],[-.38,-1.64],[-.38,-1.79],[-.21,-1.79],[-1.28,-1.86],[-1.14,-1.91],[-.69,-1.95],[-.12,-1.55],[-.32,-2.03],[-1.28,-2.10],[-1.06,-2.10],[-.86,-2.10],[-1.25,-2.22],[-1.08,-2.24],[-.35,-2.17],[-.27,-2.07],[-.80,-2.34],[-.89,-2.41],[-1.20,-2.53],[-1.03,-2.53],[-.86,-2.55],[-.60,-2.53],[-.49,-2.36],[-.35,-2.36],[-.15,-2.41],[-.12,-2.55],[-.32,-2.60],[-.44,-2.67],[-.60,-2.69],[-.91,-2.72],[-.27,-2.79],[-.38,-2.84],[-.63,-2.86],[-.75,-2.84],[-.27,-2.93],[-.12,-2.93],[-.38,-2.96],[-1.29,-2.94],[-.67,-3.0],[.19,-1.79],[.13,-1.55],[.24,-1.64],[.47,-1.55],[.69,-1.64],[.50,-1.76],[.13,-1.93],[.36,-1.95],[.44,-1.86],[.72,-1.91],[.55,-2.0],[.24,-2.31],[.30,-2.41],[.61,-2.22],[.53,-2.36],[.70,-2.50],[.13,-2.55],[.19,-2.69],[.07,-2.93],[.16,-2.98],[.13,-.24],[.27,-.24],[.54,-.24],[.14,-.45],[.36,-.60],[.19,-.71],[.33,-.71],[.47,-.64],[.58,-.55],[.64,-.40],[.78,-.50],[.92,-.43],[1.15,-.48],[1.26,-.55],[1.43,-.55],[1.60,-.60],[1.83,-.64],[2.0,-.50],[2.16,-.50],[2.11,-.19],[1.37,-.17],[1.0,-.12],[1.71,-.21],[2.0,-.17],[1.09,-.69],[1.32,-.74],[1.49,-.79],[.92,-.81],[.78,-.69],[.47,-.88],[.64,-.88],[.24,-.86],[.16,-.98],[.36,-1.02],[.58,-1.05],[.75,-1.02],[.92,-1.0],[1.15,-1.12],[1.32,-1.05],[1.60,-1.05],[1.80,-.91],[.27,-1.19],[.47,-1.19],[.64,-1.24],[.98,-1.22],[1.15,-1.19],[1.43,-1.19],[.17,-1.34],[.36,-1.34],[.58,-1.34],[1.09,-1.50],[1.32,-1.45],[1.74,-1.48],[1.88,-1.45],[2.19,-1.36],[2.05,-1.19],[2.25,-1.62],[2.0,-1.64],[1.80,-1.64],[1.63,-1.74],[1.46,-1.62],[1.20,-1.72],[1.03,-1.79],[.92,-1.93],[1.15,-1.86],[1.32,-1.91],[1.66,-2.05],[1.80,-1.98],[1.12,-2.15],[2.0,-1.81]];

const contour1=[[-3.54,1.05],[-3.37,1.26],[-3.09,1.36],[-2.69,1.41],[-2.13,1.48],[-1.34,1.51],[-1.06,1.60],[-.77,1.79],[-.55,2.07],[-.27,2.45],[.02,2.74],[.30,3.05],[.69,3.43],[.98,3.60],[1.26,3.68],[1.54,3.72],[1.94,3.66],[2.39,3.64],[2.84,3.68],[3.24,3.77],[3.46,3.88],[3.75,4.10],[4.09,4.27],[4.42,4.31],[4.99,4.32],[5.38,4.27],[5.72,4.12],[6.06,3.86],[6.33,3.46],[6.49,2.98],[6.49,2.60],[6.37,2.22],[6.17,1.74],[5.98,1.41],[5.86,1.07],[5.85,.55],[5.86,.21],[5.84,-.07],[5.78,-.55],[5.69,-.93],[5.61,-1.36],[5.44,-1.52],[4.99,-1.67],[4.59,-1.83],[4.31,-2.05],[4.08,-2.36],[4.0,-2.74],[4.03,-3.17],[3.97,-3.65],[3.80,-4.03],[3.58,-4.41],[3.35,-4.79],[3.24,-5.12],[3.20,-5.50],[3.27,-5.89],[3.46,-6.46],[3.63,-6.98],[3.72,-7.36],[3.86,-7.74],[4.08,-7.72],[4.42,-7.59],[4.71,-7.53],[5.02,-7.71],[5.09,-7.95],[4.95,-8.16],[4.62,-8.30],[4.42,-8.35],[4.2,-8.34],[3.86,-8.18],[3.63,-8.21],[3.46,-8.41],[3.29,-8.75],[3.07,-9.03],[2.84,-9.22],[2.56,-9.37],[2.16,-9.46],[1.71,-9.60],[1.26,-9.82],[.98,-9.92],[.69,-9.94],[.41,-9.89],[.19,-9.80],[-.01,-9.63],[-.27,-9.37],[-.55,-9.03],[-.82,-8.70],[-1.05,-8.51],[-1.28,-8.51],[-1.56,-8.65],[-1.85,-8.77],[-2.07,-8.81],[-2.30,-8.78],[-2.53,-8.70],[-2.86,-8.51],[-3.20,-8.32],[-3.42,-8.25],[-3.65,-8.25],[-3.93,-8.34],[-4.22,-8.42],[-4.51,-8.45],[-4.73,-8.39],[-4.96,-8.20],[-5.10,-7.94],[-5.19,-7.60],[-5.21,-7.32],[-5.15,-7.03],[-4.98,-6.79],[-4.76,-6.55],[-4.56,-6.32],[-4.60,-6.13],[-4.81,-5.93],[-5.18,-5.65],[-5.41,-5.41],[-5.75,-5.08],[-6.20,-4.74],[-6.45,-4.50],[-6.59,-4.31],[-6.65,-4.03],[-6.59,-3.74],[-6.42,-3.36],[-6.20,-2.93],[-6.03,-2.60],[-5.94,-2.26],[-5.86,-1.98],[-5.78,-1.64],[-5.58,-1.45],[-5.24,-1.26],[-4.96,-1.05],[-4.80,-.97],[-4.65,-1.19],[-4.63,-1.60],[-4.56,-1.93],[-4.42,-2.15],[-4.19,-2.15],[-3.94,-1.98],[-3.71,-1.64],[-3.57,-1.31],[-3.57,-1.02],[-3.63,-.64],[-3.68,.2],[-3.68,.65],[-3.63,.9]];
const contour1Oval=[[-4.93,.86],[-4.87,1.07],[-4.79,1.14],[-4.62,1.14],[-4.49,1.02],[-4.50,.81],[-4.62,.64],[-4.79,.54],[-4.87,.64]];
const contour1Island=[[5.31,-2.98],[5.47,-2.68],[5.74,-2.37],[5.97,-2.15],[6.24,-2.13],[6.60,-2.33],[6.89,-2.71],[6.96,-3.06],[6.74,-3.40],[6.33,-3.59],[5.88,-3.53],[5.48,-3.31]];
const contour2=[[-2.93,-.74],[-2.95,-.26],[-2.89,.07],[-2.75,.36],[-2.53,.52],[-2.19,.63],[-1.68,.69],[-1.40,.83],[-1.11,1.07],[-.83,1.31],[-.55,1.60],[-.32,1.93],[.02,2.29],[.41,2.67],[.75,3.05],[1.15,3.29],[1.54,3.36],[2.11,3.31],[2.67,3.31],[3.24,3.34],[3.46,3.37],[3.75,3.53],[4.03,3.74],[4.37,3.88],[4.82,3.94],[5.16,3.91],[5.50,3.74],[5.78,3.46],[6.0,3.07],[6.07,2.74],[6.0,2.36],[5.84,2.03],[5.67,1.69],[5.55,1.36],[5.50,.98],[5.50,.55],[5.50,.21],[5.44,-.12],[5.27,-.45],[4.99,-.93],[4.42,-1.31],[3.86,-1.79],[3.63,-2.17],[3.55,-2.55],[3.52,-2.93],[3.49,-3.41],[3.29,-3.79],[3.01,-4.17],[2.87,-4.50],[2.79,-4.98],[2.76,-5.46],[2.76,-5.69],[2.87,-6.17],[2.93,-6.89],[2.93,-7.51],[2.84,-8.03],[2.62,-8.41],[2.33,-8.65],[1.99,-8.84],[1.60,-8.99],[1.26,-9.13],[.98,-9.26],[.69,-9.28],[.41,-9.20],[.19,-9.01],[.02,-8.80],[-.12,-8.56],[-.24,-8.27],[-.29,-7.89],[-.32,-7.27],[-.41,-7.03],[-.60,-6.86],[-.83,-6.83],[-1.17,-6.86],[-1.51,-6.84],[-1.73,-6.75],[-1.90,-6.55],[-2.07,-6.27],[-2.21,-5.84],[-2.36,-5.46],[-2.47,-5.27],[-2.67,-5.13],[-2.86,-5.13],[-3.15,-5.27],[-3.43,-5.36],[-3.71,-5.36],[-4.05,-5.27],[-4.39,-5.15],[-4.67,-4.98],[-4.95,-4.74],[-5.24,-4.46],[-5.58,-4.22],[-5.75,-3.98],[-5.77,-3.74],[-5.66,-3.55],[-5.41,-3.40],[-5.01,-3.29],[-4.67,-3.17],[-4.33,-3.00],[-3.99,-2.74],[-3.71,-2.45],[-3.43,-2.03],[-3.15,-1.60],[-2.95,-1.22]];
const contour3=[[2.73,3.05],[3.07,3.07],[3.46,3.07],[3.69,3.15],[3.97,3.31],[4.25,3.48],[4.54,3.57],[4.88,3.62],[5.21,3.57],[5.50,3.41],[5.72,3.07],[5.76,2.74],[5.68,2.36],[5.53,2.03],[5.36,1.69],[5.25,1.31],[5.20,.88],[5.17,.50],[5.19,.12],[5.13,-.17],[4.96,-.41],[4.71,-.69],[4.37,-.93],[3.86,-1.26],[3.41,-1.74],[3.24,-2.12],[3.10,-2.55],[3.01,-2.79],[2.84,-3.05],[2.67,-3.0],[2.56,-2.79],[2.39,-2.41],[2.22,-2.24],[2.05,-2.17],[1.82,-2.18],[1.49,-2.26],[1.20,-2.45],[1.09,-2.69],[1.12,-3.03],[1.26,-3.31],[1.54,-3.57],[1.82,-3.74],[2.11,-3.93],[2.28,-4.22],[2.39,-4.65],[2.46,-5.22],[2.47,-5.69],[2.62,-6.41],[2.64,-7.03],[2.62,-7.51],[2.50,-7.89],[2.33,-8.13],[2.11,-8.32],[1.71,-8.46],[1.32,-8.53],[.98,-8.63],[.72,-8.69],[.47,-8.63],[.24,-8.41],[.10,-8.13],[.02,-7.75],[0,-7.22],[-.04,-6.79],[-.21,-6.51],[-.44,-6.36],[-.83,-6.29],[-1.23,-6.2],[-1.51,-6.03],[-1.73,-5.79],[-1.93,-5.51],[-2.07,-5.22],[-2.19,-4.98],[-2.41,-4.69],[-2.69,-4.53],[-3.09,-4.46],[-3.54,-4.45],[-3.99,-4.47],[-4.22,-4.36],[-4.36,-4.12],[-4.33,-3.79],[-4.11,-3.36],[-3.82,-2.88],[-3.54,-2.41],[-3.26,-2.07],[-2.92,-1.79],[-2.58,-1.55],[-2.24,-1.38],[-1.85,-1.22],[-1.51,-.88],[-1.39,-.64],[-1.28,-.12],[-1.17,.31],[-.89,.69],[-.49,1.17],[-.04,1.79],[.36,2.26],[.86,2.93],[1.26,3.08],[1.82,3.11],[2.39,3.08]];
const contour4=[[2.73,2.86],[3.18,2.79],[3.58,2.76],[3.86,2.84],[4.14,3.03],[4.42,3.22],[4.76,3.29],[5.10,3.24],[5.33,3.07],[5.43,2.79],[5.38,2.45],[5.21,1.98],[5.05,1.45],[4.96,.98],[4.91,.55],[4.88,.21],[4.71,-.07],[4.54,-.26],[4.25,-.64],[3.91,-.98],[3.69,-1.22],[3.29,-1.55],[3.01,-1.74],[2.73,-1.81],[2.33,-1.78],[1.99,-1.81],[1.60,-1.91],[1.26,-2.05],[1.03,-2.22],[.89,-2.45],[.84,-2.79],[.92,-3.17],[1.15,-3.55],[1.43,-3.84],[1.71,-4.12],[1.99,-4.50],[2.16,-5.03],[2.33,-5.93],[2.39,-6.65],[2.36,-7.36],[2.16,-7.70],[1.77,-8.03],[1.26,-8.14],[.72,-8.14],[.47,-7.84],[.36,-7.46],[.30,-6.79],[.19,-6.41],[-.10,-6.12],[-.49,-6.0],[-1.06,-5.93],[-1.40,-5.79],[-1.62,-5.55],[-1.82,-5.22],[-1.96,-4.79],[-2.19,-4.41],[-2.47,-4.22],[-2.86,-4.08],[-3.26,-3.93],[-3.49,-3.74],[-3.60,-3.46],[-3.54,-3.12],[-3.43,-2.65],[-3.20,-2.31],[-2.81,-2.03],[-2.41,-1.88],[-1.90,-1.79],[-1.56,-1.60],[-1.28,-1.26],[-1.05,-.64],[-.94,0],[-.83,.45],[-.55,.83],[-.21,1.26],[.07,1.64],[.41,2.07],[.75,2.50],[1.09,2.76],[1.43,2.88],[1.82,2.91],[2.39,2.88]];
const contour5=[[2.73,2.67],[3.07,2.60],[3.46,2.53],[3.86,2.49],[4.20,2.62],[4.54,2.79],[4.82,2.80],[4.94,2.60],[4.91,2.26],[4.82,1.88],[4.65,1.36],[4.48,.93],[4.25,.45],[4.14,-.07],[3.97,-.50],[3.75,-.93],[3.29,-1.31],[2.95,-1.41],[2.39,-1.43],[1.99,-1.48],[1.60,-1.64],[1.20,-1.74],[.86,-1.83],[.69,-2.07],[.64,-2.50],[.72,-2.98],[.92,-3.50],[1.20,-3.89],[1.49,-4.17],[1.77,-4.69],[1.94,-5.31],[1.97,-5.69],[2.11,-6.41],[2.16,-7.13],[1.99,-7.55],[1.60,-7.73],[1.15,-7.63],[.81,-7.36],[.64,-6.89],[.47,-6.36],[.07,-5.98],[-.44,-5.74],[-1.0,-5.70],[-1.34,-5.51],[-1.56,-5.22],[-1.73,-4.84],[-1.90,-4.41],[-2.13,-4.07],[-2.47,-3.91],[-2.86,-3.79],[-3.15,-3.65],[-3.32,-3.36],[-3.32,-3.07],[-3.20,-2.69],[-2.92,-2.36],[-2.58,-2.17],[-2.24,-2.15],[-1.85,-2.26],[-1.51,-2.50],[-1.25,-2.76],[-1.11,-2.55],[-1.06,-2.07],[-.94,-1.60],[-.83,-1.12],[-.75,-.64],[-.69,0],[-.49,.41],[-.21,.79],[.13,1.22],[.41,1.64],[.81,2.12],[1.20,2.45],[1.54,2.67],[2.11,2.72],[2.67,2.69]];
const contour6=[[2.73,2.53],[3.07,2.41],[3.75,2.12],[4.21,1.93],[4.25,1.74],[4.09,1.41],[3.83,1.07],[3.73,.69],[3.77,.21],[3.72,-.26],[3.52,-.69],[3.29,-.98],[2.95,-1.12],[2.39,-1.17],[1.99,-1.26],[1.60,-1.41],[1.15,-1.55],[.75,-1.69],[.55,-1.93],[.50,-2.36],[.50,-2.84],[.61,-3.26],[.81,-3.65],[1.09,-4.12],[1.37,-4.60],[1.54,-5.12],[1.51,-5.69],[1.40,-6.03],[1.26,-6.19],[1.03,-6.19],[.69,-6.03],[.30,-5.79],[-.15,-5.58],[-.66,-5.50],[-1.06,-5.45],[-1.34,-5.22],[-1.45,-4.79],[-1.59,-4.41],[-1.71,-3.98],[-1.85,-3.72],[-2.41,-3.67],[-2.75,-3.60],[-2.98,-3.36],[-3.03,-3.07],[-2.98,-2.69],[-2.75,-2.48],[-2.47,-2.41],[-2.24,-2.45],[-2.02,-2.60],[-1.85,-2.88],[-1.73,-3.22],[-1.65,-3.50],[-1.51,-3.53],[-1.28,-3.50],[-1.0,-3.36],[-.80,-3.07],[-.75,-2.74],[-.66,-2.17],[-.55,-1.50],[-.44,-.64],[-.44,0],[-.21,.45],[-.04,.83],[.24,1.22],[.53,1.60],[.92,2.03],[1.26,2.31],[1.66,2.55],[2.11,2.55],[2.67,2.54]];
const contour7Upper=[[2.84,-.95],[2.05,-1.03],[1.49,-1.24],[.98,-1.36],[.30,-1.45],[.10,-1.33],[.05,-.93],[-.04,-.50],[-.10,-.02],[-.04,.31],[.13,.88],[.41,1.45],[.81,1.93],[1.26,2.26],[1.66,2.38],[2.11,2.41],[2.73,2.36],[3.01,2.26],[3.35,1.98],[3.57,1.69],[3.57,1.45],[3.46,1.17],[3.38,.83],[3.44,.55],[3.58,.21],[3.60,-.07],[3.52,-.45],[3.24,-.79],[2.90,-.93]];
const contour8Upper=[[2.73,2.17],[3.01,2.03],[3.21,1.69],[3.21,1.36],[3.13,.98],[3.10,.69],[3.24,.31],[3.32,-.02],[3.27,-.41],[3.01,-.64],[2.73,-.71],[2.11,-.79],[1.54,-.88],[1.26,-.95],[.81,-.83],[.53,-.55],[.30,-.12],[.21,.21],[.24,.55],[.36,1.02],[.64,1.55],[1.03,1.98],[1.43,2.17],[1.88,2.26],[2.39,2.22]];
const contour9Upper=[[2.73,1.93],[2.90,1.69],[2.93,1.41],[2.84,.93],[2.87,.60],[3.04,.12],[3.07,-.12],[2.95,-.36],[2.73,-.45],[2.28,-.38],[1.99,-.31],[1.54,-.33],[1.26,-.31],[.86,-.14],[.53,.21],[.44,.55],[.58,1.17],[.86,1.55],[1.26,1.88],[1.66,2.05],[2.16,2.07],[2.67,1.98]];
const contour10Upper=[[.67,.83],[.81,1.26],[1.15,1.60],[1.54,1.81],[1.99,1.88],[2.39,1.81],[2.67,1.60],[2.70,1.36],[2.56,1.02],[2.39,.74],[2.11,.50],[1.77,.33],[1.43,.17],[1.20,.16],[.86,.31],[.67,.60]];
const contour11Upper=[[.92,.98],[1.15,1.26],[1.43,1.50],[1.88,1.60],[2.14,1.57],[2.28,1.41],[2.25,1.24],[1.99,1.05],[1.71,.79],[1.43,.62],[1.20,.56],[.98,.69]];
const contour7Lower=[[-.07,-1.91],[.10,-1.95],[.19,-2.36],[.27,-2.93],[.55,-3.41],[.92,-3.89],[1.20,-4.41],[1.18,-4.98],[.98,-5.50],[.69,-5.67],[.30,-5.58],[-.10,-5.43],[-.66,-5.34],[-1.06,-5.08],[-1.34,-4.74],[-1.42,-4.36],[-1.37,-4.07],[-1.28,-3.88],[-1.0,-3.69],[-.66,-3.31],[-.55,-3.03],[-.44,-2.50],[-.27,-2.15]];
const contour8Lower=[[-.38,-3.48],[-.07,-3.19],[.24,-3.46],[.64,-3.93],[.92,-4.36],[.95,-4.74],[.81,-5.22],[.53,-5.39],[.19,-5.34],[-.21,-5.20],[-.66,-5.12],[-.89,-5.03],[-1.17,-4.79],[-1.25,-4.41],[-1.06,-4.05],[-.66,-3.72]];
const contour9Lower=[[-.66,-4.07],[-.04,-3.81],[.30,-3.93],[.64,-4.27],[.72,-4.60],[.61,-4.98],[.41,-5.12],[.02,-5.05],[-.38,-4.93],[-.66,-4.86],[-.89,-4.70],[-.89,-4.41]];
const contour10Lower=[[-.15,-4.48],[.07,-4.27],[.30,-4.41],[.38,-4.60],[.33,-4.77],[.07,-4.72],[-.04,-4.64]];
const contour7Left=[[-2.69,-2.88],[-2.47,-2.76],[-2.30,-2.88],[-2.21,-3.07],[-2.27,-3.22],[-2.47,-3.29],[-2.64,-3.24],[-2.72,-3.03]];
const contour7Diamond=[[1.49,-6.70],[1.60,-6.72],[1.71,-6.84],[1.68,-7.02],[1.49,-6.89]];

const densityU=[-11.10,-8.84,-7.05,-6.51,-5.79,-4.89,-4.35,-3.82,-3.46,-2.92,-2.56,-1.84,-1.30,-.76,-.31,.13,.40,.67,1.03,1.57,1.93,2.65,3.19,3.73,4.08,4.62,5.16,5.70,6.24,6.96,7.67,8.36];
const densityUValues=[0,.002,.007,.010,.017,.024,.026,.028,.035,.046,.051,.055,.064,.078,.100,.125,.134,.137,.133,.126,.117,.100,.081,.060,.051,.047,.035,.021,.010,.003,.001,0];
const densityV=[5.08,4.60,3.98,3.38,2.85,2.40,1.99,1.64,1.19,.66,.05,-.48,-1.09,-1.62,-2.0,-2.45,-2.98,-3.66,-4.27,-4.80,-5.25,-5.63,-6.09,-6.69,-7.30,-7.83,-8.36,-8.89,-9.57,-10.25,-11.16,-12.07,-13.10];
const densityVValues=[0,.002,.008,.022,.041,.063,.085,.102,.113,.117,.118,.113,.096,.084,.080,.085,.095,.101,.105,.099,.080,.063,.056,.054,.055,.052,.041,.025,.011,.004,.002,.001,0];

const points=[].concat(ptsUpperLeft,ptsMidLeft,ptsMidBand,ptsLowerLeft,ptsFarLeft,ptsLowerRight,ptsLowerLobe,ptsRightEdge,ptsUpperRight,ptsUpperCentre,ptsUpperBand,ptsSaddleLeft,ptsLeftPeak,ptsCentreStrip,ptsRightBand,ptsUpperCore,ptsLowerCore,ptsUpperCoreDense,ptsLowerCoreDense,ptsLobeDense,ptsCentreDense);
const contours=[contour1,contour1Oval,contour1Island,contour2,contour3,contour4,contour5,contour6,contour7Upper,contour8Upper,contour9Upper,contour10Upper,contour11Upper,contour7Lower,contour8Lower,contour9Lower,contour10Lower,contour7Left,contour7Diamond];

const fmt=v=>String(v).replace('-','\u2212');
const font='"Liberation Sans",Arial,sans-serif';
const black={color:'#000',width:3.2};
const chart=echarts.init(document.getElementById('c'),null,{renderer:'canvas'});
const series=[];
series.push({type:'scatter',xAxisIndex:0,yAxisIndex:0,data:points,symbol:'circle',symbolSize:8.6,large:false,progressive:0,itemStyle:{color:'#0000FF',opacity:1},z:2,silent:true});
series.push({type:'line',xAxisIndex:0,yAxisIndex:0,data:[[0,yMin],[0,yMax]],symbol:'none',lineStyle:black,z:3,silent:true});
series.push({type:'line',xAxisIndex:0,yAxisIndex:0,data:[[xMin,0],[xMax,0]],symbol:'none',lineStyle:black,z:3,silent:true});
contours.forEach(c=>series.push({type:'line',xAxisIndex:0,yAxisIndex:0,data:c.concat([c[0]]),symbol:'none',smooth:0.25,lineStyle:black,z:4,silent:true}));
series.push({type:'line',xAxisIndex:1,yAxisIndex:1,data:densityU.map((u,i)=>[u,densityUValues[i]]),symbol:'none',smooth:0.3,lineStyle:black,z:4,silent:true});
series.push({type:'line',xAxisIndex:2,yAxisIndex:2,data:densityV.map((v,i)=>[densityVValues[i],v]),symbol:'none',smooth:0.3,lineStyle:black,z:4,silent:true});
chart.setOption({
 animation:false,backgroundColor:'#fff',
 grid:[
  {left:129,width:1260,top:159,height:1395,show:true,borderColor:'#000',borderWidth:2.6,backgroundColor:'transparent',containLabel:false,outerBoundsMode:'none'},
  {left:129,width:1260,top:0,height:159,outerBoundsMode:'none'},
  {left:1389,width:272,top:159,height:1395,outerBoundsMode:'none'}
 ],
 xAxis:[
  {type:'value',gridIndex:0,min:xMin,max:xMax,name:'u',nameLocation:'middle',nameGap:55,nameMoveOverlap:false,nameTextStyle:{fontFamily:font,fontSize:31,color:'#000'},axisLine:{show:false,onZero:false},splitLine:{show:false},
   axisTick:{show:true,length:7,lineStyle:{color:'#333',width:2},customValues:xTicks},
   axisLabel:{show:true,customValues:xTicks,formatter:fmt,fontFamily:font,fontSize:28,color:'#4D4D4D',margin:16}},
  {type:'value',gridIndex:1,min:xMin,max:xMax,show:false},
  {type:'value',gridIndex:2,min:-0.0076,max:0.1337,show:false}
 ],
 yAxis:[
  {type:'value',gridIndex:0,min:yMin,max:yMax,name:'v',nameLocation:'middle',nameGap:78,nameMoveOverlap:false,nameTextStyle:{fontFamily:font,fontSize:31,color:'#000'},axisLine:{show:false,onZero:false},splitLine:{show:false},
   axisTick:{show:true,length:7,lineStyle:{color:'#333',width:2},customValues:yTicks},
   axisLabel:{show:true,customValues:yTicks,formatter:fmt,fontFamily:font,fontSize:28,color:'#4D4D4D',margin:19}},
  {type:'value',gridIndex:1,min:-0.0081,max:0.163,show:false},
  {type:'value',gridIndex:2,min:yMin,max:yMax,show:false}
 ],
 series
});
</script></body></html>
